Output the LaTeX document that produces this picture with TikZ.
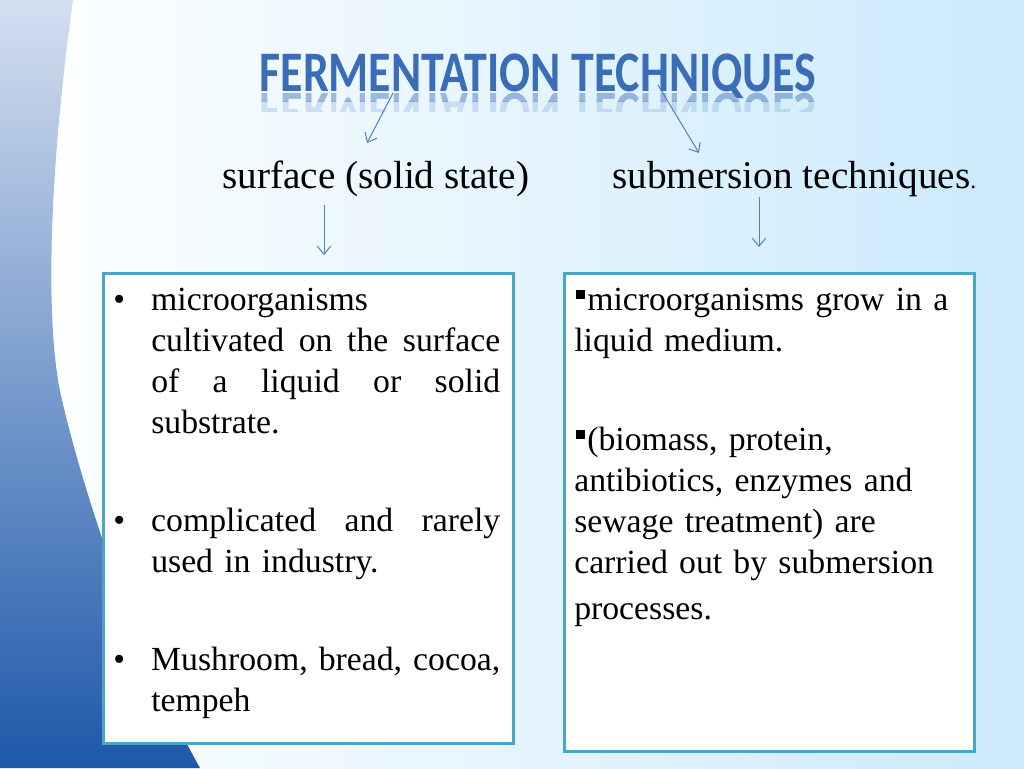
\documentclass[tikz,border=0pt]{standalone}
\usepackage{fontspec}
\setmainfont{Liberation Serif}
\newfontfamily\titlefont{Carlito}
\usepackage{xcolor}
\usepackage{tikz}
\usetikzlibrary{calc}
\usetikzlibrary{positioning,arrows.meta}

\definecolor{boxline}{RGB}{75,165,198}
\definecolor{arrowblue}{RGB}{79,129,189}
\definecolor{titleblue}{RGB}{58,108,184}
\definecolor{bgblue}{RGB}{203,234,252}
\definecolor{striptop}{RGB}{212,223,240}
\definecolor{stripbot}{RGB}{30,88,170}

\newlength\pxu
\setlength\pxu{0.75pt}
\newcommand\spreadline[1]{\leavevmode\hbox to 349\pxu{#1}}

\begin{document}
\begin{tikzpicture}[x=0.75pt,y=-0.75pt,
                    thin arrow/.style={draw=arrowblue,line width=0.75pt,-{Straight Barb[length=6pt,width=10pt]}},
                    text box/.style={draw=boxline,line width=2.25pt,fill=white,inner sep=0pt,anchor=north west},
                    head/.style={anchor=base west,inner sep=0pt,font=\fontsize{29.4}{35}\selectfont},
                    item/.style={anchor=north west,inner sep=0pt,text width=349\pxu,font=\fontsize{25.3}{30.75}\selectfont},
                    title text/.style={anchor=base,inner sep=0pt,text=titleblue,font=\titlefont\bfseries\fontsize{43}{50}\selectfont}]
\useasboundingbox (0,0) rectangle (1024,768);
%background
  \shade[left color=white,right color=bgblue] (0,0) rectangle (1024,768);
  \shade[top color=striptop,bottom color=stripbot] (0,0) -- (73,0)
    .. controls (48,180) and (45,330) .. (62,400)
    .. controls (90,520) and (150,680) .. (200,768) -- (0,768) -- cycle;
%title
  \node[title text] (title) at (538,91) {\scalebox{0.8}[1]{FERMENTATION TECHNIQUES}};
  \begin{scope}
    \clip (200,92) rectangle (850,101);
    \node[title text,opacity=0.45] (refl) at (538,93) {\scalebox{0.8}[-1]{FERMENTATION TECHNIQUES}};
  \end{scope}
  \begin{scope}
    \clip (200,101) rectangle (850,111);
    \node[title text,opacity=0.18] at (538,93) {\scalebox{0.8}[-1]{FERMENTATION TECHNIQUES}};
  \end{scope}
%headings
  \node[head] (surf) at (222,188) {surface (solid state)};
  \node[head] (subm) at (612,188) {submersion techniques{\fontsize{18}{20}\selectfont.}};
%boxes
  \node[text box,minimum width=410\pxu,minimum height=470\pxu] (leftbox) at (102,272) {};
  \node[text box,minimum width=410\pxu,minimum height=478\pxu] (rightbox) at (563,272) {};
%first box
  \node[item] (it1) at (151,281.3) {\strut\llap{\textbullet\hspace{26\pxu}}microorganisms\\
    \spreadline{cultivated\hfill on\hfill the\hfill surface}\\
    \spreadline{of\hfill a\hfill liquid\hfill or\hfill solid}\\
    substrate.};
  \node[item] (it2) at (151,502.3) {\strut\llap{\textbullet\hspace{26\pxu}}\spreadline{complicated\hfill and\hfill rarely}\\
    used in industry.};
  \node[item] (it3) at (151,641.3) {\strut\llap{\textbullet\hspace{26\pxu}}\spreadline{Mushroom,\hfill bread,\hfill cocoa,}\\
    tempeh};
%second box
  \node[item,text width=390\pxu] (sub1) at (574,281.3) {\strut\hspace{2\pxu}\rule[11\pxu]{9\pxu}{9\pxu}\hspace{2\pxu}microorganisms grow in a\\
    liquid medium.};
  \node[item,text width=390\pxu] (sub2) at (574,421.3) {\strut\hspace{2\pxu}\rule[11\pxu]{9\pxu}{9\pxu}\hspace{2\pxu}(biomass, protein,\\
    antibiotics, enzymes and\\
    sewage treatment) are\\
    carried out by submersion\\[5\pxu]
    processes.};
%arrows
  \coordinate (a1s) at (393,93);
  \coordinate (a1e) at (367,143);
  \coordinate (a2s) at (658,85);
  \coordinate (a2e) at (699,153);
  \coordinate (a3s) at (324,205);
  \coordinate (a3e) at (324,255);
  \coordinate (a4s) at (759,197);
  \coordinate (a4e) at (759,247);
  \draw[thin arrow] (a1s) -- (a1e);
  \draw[thin arrow] (a2s) -- (a2e);
  \draw[thin arrow] (a3s) -- (a3e);
  \draw[thin arrow] (a4s) -- (a4e);
\end{tikzpicture}
\end{document}
